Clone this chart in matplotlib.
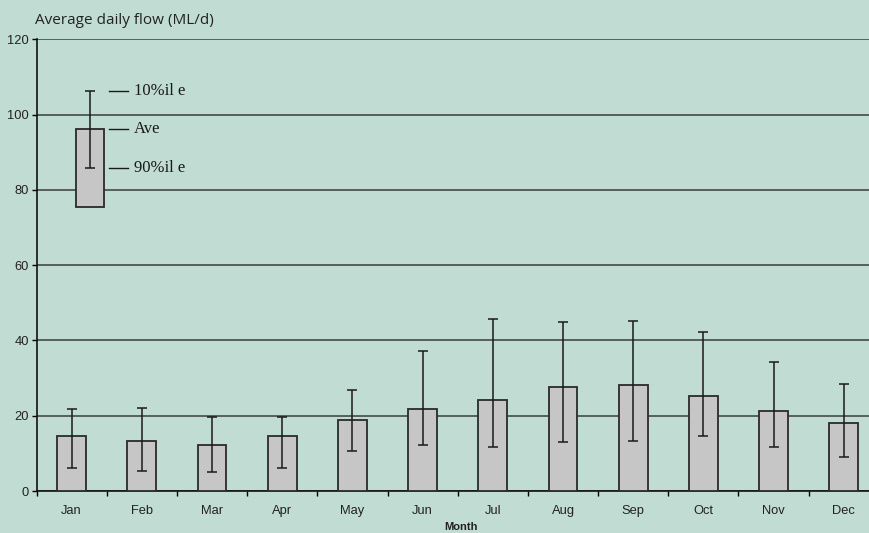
import numpy as np
import matplotlib.pyplot as plt

# Monthly flow statistics (ML/d)
months = ["Jan", "Feb", "Mar", "Apr", "May", "Jun", "Jul", "Aug", "Sep", "Oct", "Nov", "Dec"]
ave = [14.6, 13.2, 12.3, 14.6, 18.9, 21.9, 24.1, 27.6, 28.1, 25.2, 21.3, 18.1]
p10 = [21.7, 22.0, 19.6, 19.6, 26.9, 37.3, 45.7, 44.9, 45.2, 42.2, 34.4, 28.3]
p90 = [6.2, 5.4, 5.0, 6.2, 10.6, 12.3, 11.7, 13.1, 13.3, 14.5, 11.7, 8.9]

# key box in the upper left
key_bottom, key_ave = 75.5, 96.2
key_p10, key_p90 = 106.3, 85.9
key_labels = ["10%il e", "Ave", "90%il e"]

bg = "#c1dcd2"
fig = plt.figure(figsize=(8.7, 5.33), dpi=100, facecolor=bg)
ax = fig.add_axes([36.5 / 870, 42 / 533, 842.4 / 870, 451.7 / 533], facecolor=bg)

x = np.arange(len(months))
lower = np.array(ave) - np.array(p90)
upper = np.array(p10) - np.array(ave)
ax.bar(x, ave, width=0.41, color="#c6c6c6", edgecolor="#2a2a2a", linewidth=1.3, zorder=3)
ax.errorbar(x, ave, yerr=[lower, upper], fmt="none", ecolor="#1a1a1a",
            elinewidth=1.1, capsize=3.5, capthick=1.1, zorder=4)

# key
kx = 0.26
ax.bar([kx], [key_ave - key_bottom], bottom=key_bottom, width=0.4, color="#c6c6c6",
       edgecolor="#2a2a2a", linewidth=1.3, zorder=3)
ax.errorbar([kx], [key_ave], yerr=[[key_ave - key_p90], [key_p10 - key_ave]], fmt="none",
            ecolor="#1a1a1a", elinewidth=1.1, capsize=3.5, capthick=1.1, zorder=4)
for yv, lab in zip([key_p10, key_ave, key_p90], key_labels):
    ax.plot([0.53, 0.80], [yv, yv], color="#1a1a1a", lw=1.0, zorder=4)
    ax.text(0.89, yv, lab, va="center", ha="left", fontsize=12,
            family="Liberation Serif", color="#1a1a1a")

ax.set_xlim(-0.5, 11.5)
ax.set_ylim(0, 120)
ax.set_yticks(np.arange(0, 121, 20))
ax.yaxis.grid(True, color="#4d5651", lw=1.3)
ax.set_axisbelow(True)
ax.set_xticks(x)
ax.set_xticklabels(months)
ax.set_xticks(np.arange(-0.5, 12, 1), minor=True)
ax.tick_params(axis="x", which="major", length=0, pad=10, labelsize=9.3)
ax.tick_params(axis="x", which="minor", length=3.5, width=1, direction="out")
ax.tick_params(axis="y", length=3.5, width=1, labelsize=9.3, pad=2)
for lab in ax.get_xticklabels() + ax.get_yticklabels():
    lab.set_family("Liberation Sans")
    lab.set_color("#222222")

for s in ["top", "right"]:
    ax.spines[s].set_visible(False)
ax.spines["left"].set_color("#111111")
ax.spines["bottom"].set_color("#111111")
ax.spines["left"].set_linewidth(1.2)
ax.spines["bottom"].set_linewidth(1.2)

fig.text(35 / 870, 1 - 20 / 533, "Average daily flow (ML/d)", fontsize=11,
         family="Open Sans", color="#222222", va="center", ha="left")
fig.text(461 / 870, 1 - 527 / 533, "Month", fontsize=8, fontweight="bold",
         family="Liberation Sans", color="#222222", va="center", ha="center")

fig.savefig("out.png", dpi=100, facecolor=bg)
